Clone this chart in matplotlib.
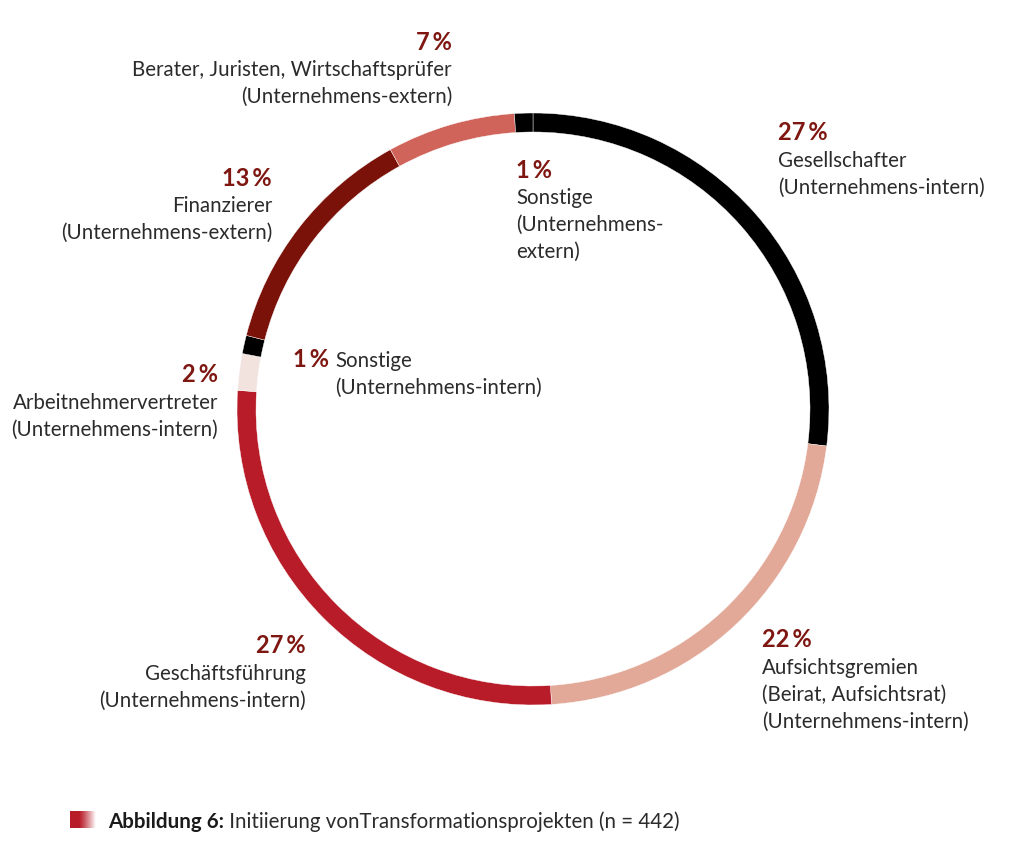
import matplotlib.pyplot as plt
import numpy as np

plt.rcParams['font.family'] = ['Lato', 'DejaVu Sans']

# data, clockwise from 12 o'clock
categories = ['Gesellschafter', 'Aufsichtsgremien', 'Geschäftsführung',
              'Arbeitnehmervertreter', 'Sonstige (intern)', 'Finanzierer',
              'Berater, Juristen, Wirtschaftsprüfer', 'Sonstige (extern)']
shares = [27, 22, 27, 2, 1, 13, 7, 1]
label_text = [
    'Gesellschafter\n(Unternehmens-intern)',
    'Aufsichtsgremien\n(Beirat, Aufsichtsrat)\n(Unternehmens-intern)',
    'Geschäftsführung\n(Unternehmens-intern)',
    'Arbeitnehmervertreter\n(Unternehmens-intern)',
    None,
    'Finanzierer\n(Unternehmens-extern)',
    'Berater, Juristen, Wirtschaftsprüfer\n(Unternehmens-extern)',
    'Sonstige\n(Unternehmens-\nextern)',
]
caption_bold = 'Abbildung 6:'
caption_rest = ' Initiierung vonTransformationsprojekten (n = 442)'

colors = ['#000000', '#e2a898', '#b81c28', '#f3e3df',
          '#000000', '#7a1209', '#d0635a', '#000000']
TXT = '#2b2b2b'
PCT = '#7e1711'

W, H = 1030, 845
fig = plt.figure(figsize=(W / 100, H / 100), dpi=100)
ax = fig.add_axes([0, 0, 1, 1])

def Y(y):  # image row -> axes y
    return H - y

cx, cy, r = 533, 410, 296
ax.pie(shares, colors=colors, startangle=90, counterclock=False,
       center=(cx, Y(cy)), radius=r, frame=True,
       wedgeprops=dict(width=19, edgecolor='white', linewidth=0.3))
ax.set_xlim(0, W)
ax.set_ylim(0, H)
ax.set_aspect('equal')
ax.axis('off')

fs = 14.8
pfs = 17
lh = 27
# (x, y of percent line, ha)
label_pos = [(778, 133, 'left'), (762, 640, 'left'), (306, 646, 'right'),
             (218, 375, 'right'), None, (272, 178, 'right'),
             (452, 42, 'right'), (516, 170, 'left')]

for val, txt, pos in zip(shares, label_text, label_pos):
    if pos is None:
        continue
    x, y, ha = pos
    ax.text(x, Y(y), f'{val}\u2009%', ha=ha, va='center', fontsize=pfs,
            fontweight='bold', color=PCT)
    for i, line in enumerate(txt.split('\n')):
        ax.text(x, Y(y + 1 + lh * (i + 1)), line, ha=ha, va='center',
                fontsize=fs, color=TXT)

# the 1 % "Sonstige (intern)" label sits inline
ax.text(329, Y(360), f'{shares[4]}\u2009%', ha='right', va='center',
        fontsize=pfs, fontweight='bold', color=PCT)
ax.text(335, Y(361), 'Sonstige', ha='left', va='center', fontsize=fs, color=TXT)
ax.text(335, Y(388), '(Unternehmens-intern)', ha='left', va='center',
        fontsize=fs, color=TXT)

# caption with gradient marker
grad = np.linspace(0, 1, 64)
red = np.array([0.72, 0.11, 0.16])
img = np.ones((1, 64, 3))
fade = np.clip((grad - 0.35) / 0.65, 0, 1) ** 1.2
img[0] = red[None, :] * (1 - fade[:, None]) + fade[:, None]
ax.imshow(img, extent=(70, 96, Y(829), Y(812)), aspect='auto', zorder=2)
t1 = ax.text(108, Y(822), caption_bold, ha='left', va='center', fontsize=14.8,
             fontweight='bold', color='#1a1a1a')
ax.annotate(caption_rest, xy=(1, 0.5), xycoords=t1, ha='left', va='center',
            fontsize=14.8, color=TXT)
ax.set_xlim(0, W)
ax.set_ylim(0, H)

fig.savefig('out.png', dpi=100, facecolor='white')
